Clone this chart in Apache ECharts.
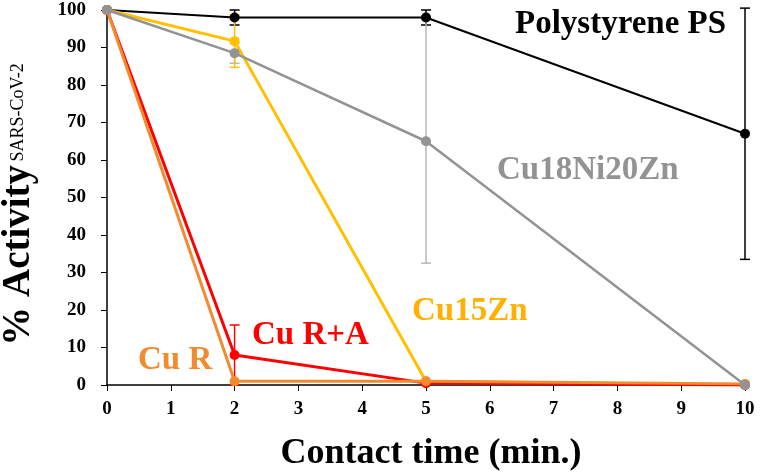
<!DOCTYPE html>
<html><head><meta charset="utf-8">
<script src="https://cdn.jsdelivr.net/npm/echarts@6/dist/echarts.min.js"></script>
<style>html,body{margin:0;padding:0;background:#fff}#c{width:762px;height:473px}</style>
</head><body><div id="c"></div>
<script>
const times = [0, 2, 5, 10];
const psVals = [100, 98, 98, 67];
const psErr = [0, 2, 2, 33.5];
const niVals = [100, 88.5, 65, 0];
const niErr = [0, 2.7, 32.5, 0];
const znVals = [100, 91.7, 1, 0];
const znErr = [0, 7, 0, 0];
const raVals = [100, 8, 0.5, 0];
const raErr = [0, 8, 0, 0];
const crVals = [100, 1, 1, 0.3];
const xTicks = [0,1,2,3,4,5,6,7,8,9,10];

const FONT = '"Liberation Serif", "Times New Roman", serif';
const pts = v => times.map((t,i)=>[t, v[i]]);

function errSeries(vals, errs, color, z){
  return {
    type:'custom', z:z, silent:true,
    data: times.map((t,i)=>[t, vals[i], errs[i]]).filter(d=>d[2]>0),
    renderItem: (params, api) => {
      const x = api.value(0), y = api.value(1), e = api.value(2);
      const top = api.coord([x, y+e]), bot = api.coord([x, Math.max(0,y-e)]);
      const w = 5;
      const st = {stroke: color, lineWidth: 1.5};
      return {type:'group', children:[
        {type:'line', shape:{x1:top[0],y1:top[1],x2:bot[0],y2:bot[1]}, style:st},
        {type:'line', shape:{x1:top[0]-w,y1:top[1],x2:top[0]+w,y2:top[1]}, style:st},
        {type:'line', shape:{x1:bot[0]-w,y1:bot[1],x2:bot[0]+w,y2:bot[1]}, style:st}
      ]};
    }
  };
}
function lineSeries(name, vals, color, width, z){
  return {name, type:'line', data: pts(vals), z:z, symbol:'circle', symbolSize:10,
    lineStyle:{color, width}, itemStyle:{color}, animation:false};
}
function label(text, x, y, color){
  return {type:'text', x:x, y:y, z:100,
    style:{text, fill:color, font:'bold 33px '+FONT, align:'left', verticalAlign:'middle',
      textAlign:'left', textVerticalAlign:'middle'}};
}

const chart = echarts.init(document.getElementById('c'));
chart.setOption({
  animation:false,
  grid:{left:107, right:17, top:10, bottom:88, containLabel:false, outerBoundsMode:'none'},
  xAxis:{type:'value', min:0, max:10, interval:1,
    axisLine:{lineStyle:{color:'#000', width:1.5}},
    axisTick:{show:true, length:6, lineStyle:{color:'#000'}},
    splitLine:{show:false},
    axisLabel:{color:'#000', fontFamily:FONT, fontWeight:'bold', fontSize:19, margin:15,
      formatter: v => xTicks.includes(v) ? String(v) : ''},
    name:'Contact time (min.)', nameLocation:'middle', nameGap:51,
    nameTextStyle:{color:'#000', fontFamily:FONT, fontWeight:'bold', fontSize:36, padding:[0,0,0,10]}},
  yAxis:{type:'value', min:0, max:100, interval:10,
    axisLine:{show:true, lineStyle:{color:'#000', width:1.5}},
    axisTick:{show:true, length:6, lineStyle:{color:'#000'}},
    splitLine:{show:false},
    axisLabel:{color:'#000', fontFamily:FONT, fontWeight:'bold', fontSize:19, margin:21},
    name:'{a|% Activity} {b|SARS-CoV-2}', nameLocation:'middle', nameGap:69, nameRotate:90,
    nameTextStyle:{padding:[0,0,0,-14], rich:{
      a:{color:'#000', fontFamily:FONT, fontWeight:'bold', fontSize:39},
      b:{color:'#000', fontFamily:FONT, fontSize:18}}}},
  series:[
    errSeries(psVals, psErr, '#000', 2),
    errSeries(niVals, niErr, '#b8b8b8', 2),
    errSeries(znVals, znErr, '#FFC000', 2),
    errSeries(raVals, raErr, '#FF0000', 2),
    lineSeries('Polystyrene PS', psVals, '#000000', 2, 3),
    lineSeries('Cu15Zn', znVals, '#FFC000', 3, 4),
    lineSeries('Cu R+A', raVals, '#FF0000', 3, 5),
    lineSeries('Cu R', crVals, '#F28A30', 3, 6),
    lineSeries('Cu18Ni20Zn', niVals, '#939393', 2.5, 7)
  ],
  graphic:[
    label('Polystyrene PS', 515, 24, '#000'),
    label('Cu18Ni20Zn', 497, 170, '#939393'),
    label('Cu15Zn', 412, 311, '#FFB000'),
    label('Cu R+A', 252, 335, '#FF0000'),
    label('Cu R', 138, 360, '#F28A30')
  ]
});
</script></body></html>
